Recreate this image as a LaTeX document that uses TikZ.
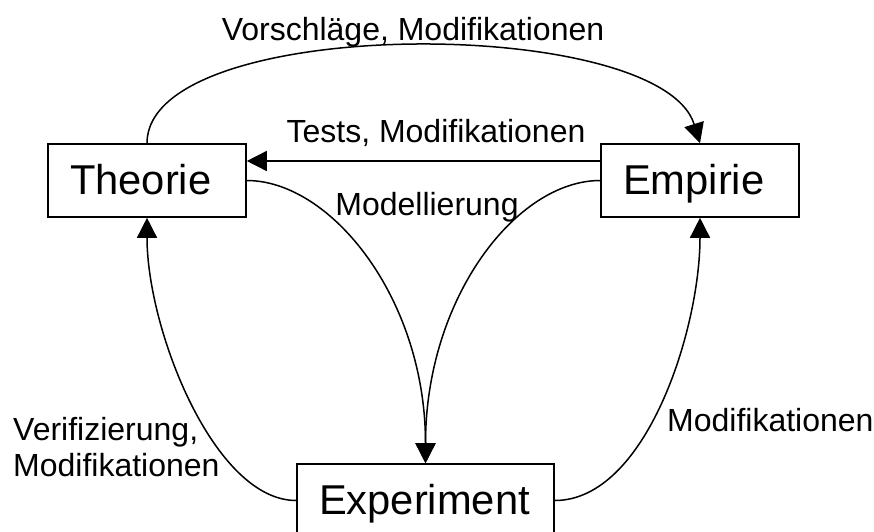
\documentclass[tikz,border=0pt]{standalone}
\usepackage{fontspec}
\setmainfont{Liberation Sans}
\usetikzlibrary{arrows.meta}
\begin{document}
\begin{tikzpicture}[x=1pt,y=-1pt,
  stage/.style={draw, line width=1.6pt, minimum height=73pt, inner xsep=22pt,
    inner ysep=0pt, align=left, text height=27pt, text depth=0pt,
    font=\fontsize{41.7}{48}\selectfont},
  flow/.style={line width=1.5pt, -{Triangle[length=20pt,width=20pt]}},
  tag/.style={inner sep=0pt, font=\fontsize{32}{36.5}\selectfont}]
\useasboundingbox (0,0) rectangle (874,531);
\clip (0,0) rectangle (874,531);
\fill[white] (0,0) rectangle (874,531);

% the three stages
\node[stage, text width=154pt] (theorie) at (147,180.5) {Theorie};
\node[stage, text width=154pt] (empirie) at (700,180.5) {Empirie};
\node[stage, text width=213pt] (experiment) at (425.5,500.5) {Experiment};

% connections between the stages
\draw[flow] (theorie.north) .. controls +(0,-129) and +(-40,-129) .. (empirie.north);
\draw[flow] ([yshift=19.5pt]empirie.west) -- ([yshift=19.5pt]theorie.east);
\draw[flow] (theorie.east) .. controls +(84,0) and +(0,-165) .. (experiment.north);
\draw[flow] (empirie.west) .. controls +(-84,0) and +(0,-165) .. (experiment.north);
\draw[flow] (experiment.west) .. controls +(-82,0) and +(0,112) .. (theorie.south);
\draw[flow] (experiment.east) .. controls +(91,0) and +(0,112) .. (empirie.south);

% labels of the connections
\node[tag, anchor=base] (lblTop) at (413,40) {Vorschläge, Modifikationen};
\node[tag, anchor=base] (lblTests) at (436,142) {Tests, Modifikationen};
\node[tag, anchor=base] (lblModel) at (427,215) {Modellierung};
\node[tag, anchor=base west] (lblRight) at (667,431) {Modifikationen};
\node[tag, anchor=north west, align=left] (lblLeft) at (13,417) {Verifizierung,\\Modifikationen};
\end{tikzpicture}
\end{document}
